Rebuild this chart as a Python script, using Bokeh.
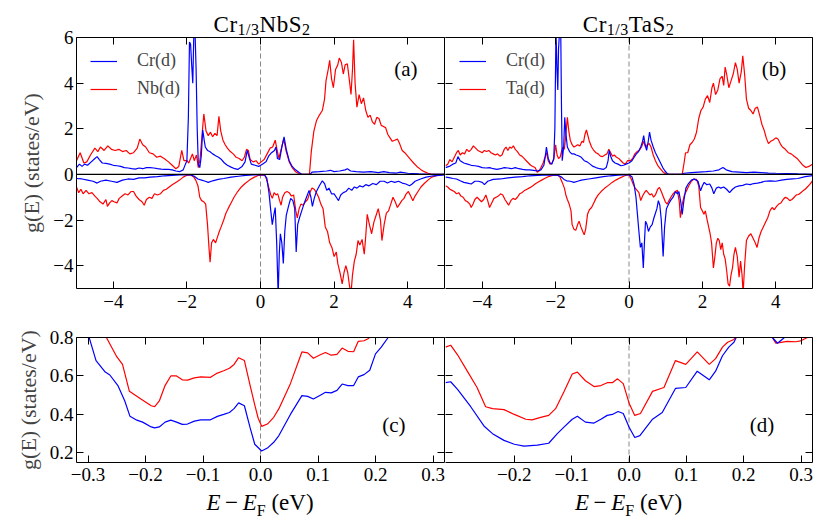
from bokeh.plotting import figure
from bokeh.models import (LinearAxis, FixedTicker, CustomJSTickFormatter, Span, Legend,
                          LegendItem, Label, Div, Spacer, Range1d)
from bokeh.layouts import column, row
from bokeh.embed import file_html
from bokeh.resources import INLINE

FONT = "Liberation Serif"
FONT_AX = "'Liberation Serif', serif"
BLUE = "#0000ff"
RED = "#ff0000"

# ---------------- data: Cr1/3NbS2 (panel a) ----------------
nb_nbd_up = [(-5.0, 0.6), (-4.9, 0.95), (-4.8, 0.5), (-4.72, 0.55), (-4.62, 0.85), (-4.5, 1.15), (-4.42, 1.0),
             (-4.35, 1.2), (-4.25, 1.05), (-4.15, 1.25), (-4.05, 1.1), (-3.95, 1.05), (-3.85, 1.1), (-3.75, 1.0),
             (-3.65, 1.05), (-3.55, 0.9), (-3.45, 0.95), (-3.35, 1.15), (-3.28, 1.55), (-3.2, 1.3), (-3.12, 1.2),
             (-3.02, 0.95), (-2.92, 0.9), (-2.82, 0.75), (-2.72, 0.8), (-2.62, 0.7), (-2.5, 0.55), (-2.4, 0.4),
             (-2.3, 0.25), (-2.22, 0.35), (-2.14, 1.05), (-2.08, 0.6), (-2.0, 0.6), (-1.95, 0.5), (-1.9, 0.7),
             (-1.85, 0.9), (-1.8, 0.6), (-1.74, 0.85), (-1.69, 0.3), (-1.64, 0.7), (-1.58, 1.9), (-1.54, 2.65),
             (-1.48, 1.9), (-1.42, 1.7), (-1.36, 1.85), (-1.3, 1.65), (-1.24, 1.8), (-1.18, 1.7), (-1.13, 2.55),
             (-1.08, 1.9), (-1.02, 1.5), (-0.96, 1.3), (-0.9, 1.15), (-0.82, 1.0), (-0.74, 0.9), (-0.66, 0.75),
             (-0.58, 0.7), (-0.5, 0.6), (-0.44, 0.75), (-0.38, 1.1), (-0.33, 1.05), (-0.28, 0.65), (-0.2, 0.55),
             (-0.12, 0.6), (-0.05, 0.45), (0.02, 0.55), (0.1, 0.65), (0.18, 0.9), (0.26, 1.15), (0.33, 1.2),
             (0.4, 1.5), (0.46, 1.0), (0.5, 0.7), (0.56, 1.1), (0.63, 1.55), (0.7, 1.0), (0.78, 0.55), (0.86, 0.3),
             (0.95, 0.12), (1.05, 0.03), (1.15, 0.0), (1.33, 0.0), (1.38, 1.0), (1.45, 1.9), (1.52, 2.35),
             (1.6, 2.6), (1.68, 2.8), (1.74, 3.3), (1.78, 4.1), (1.84, 4.6), (1.88, 5.0), (1.93, 4.2), (1.98, 3.8),
             (2.04, 4.6), (2.1, 4.8), (2.14, 5.1), (2.2, 4.9), (2.25, 4.4), (2.3, 4.8), (2.36, 4.85), (2.41, 4.2),
             (2.46, 3.5), (2.5, 4.6), (2.53, 5.9), (2.57, 4.0), (2.62, 2.95), (2.68, 3.5), (2.74, 3.1), (2.8, 3.35),
             (2.86, 2.8), (2.92, 2.5), (2.98, 2.6), (3.04, 2.3), (3.1, 2.2), (3.16, 2.5), (3.22, 2.45), (3.28, 2.15),
             (3.34, 2.1), (3.4, 2.05), (3.46, 1.75), (3.52, 1.6), (3.58, 1.45), (3.65, 1.5), (3.72, 1.55),
             (3.78, 1.35), (3.85, 1.05), (3.92, 0.95), (4.0, 0.8), (4.08, 0.65), (4.16, 0.5), (4.25, 0.35),
             (4.35, 0.22), (4.45, 0.12), (4.55, 0.05), (4.65, 0.0), (5.0, 0.0)]

nb_crd_up = [(-5.0, 0.3), (-4.92, 0.45), (-4.85, 0.35), (-4.78, 0.45), (-4.7, 0.4), (-4.6, 0.55), (-4.5, 0.7),
             (-4.44, 0.78), (-4.38, 0.65), (-4.3, 0.5), (-4.2, 0.48), (-4.1, 0.45), (-4.0, 0.4), (-3.9, 0.38),
             (-3.8, 0.35), (-3.7, 0.3), (-3.6, 0.28), (-3.5, 0.25), (-3.4, 0.23), (-3.3, 0.28), (-3.2, 0.25),
             (-3.1, 0.3), (-3.0, 0.3), (-2.9, 0.28), (-2.8, 0.25), (-2.7, 0.23), (-2.6, 0.22), (-2.5, 0.22),
             (-2.4, 0.2), (-2.3, 0.15), (-2.2, 0.12), (-2.1, 0.2), (-2.04, 0.45), (-2.0, 0.6), (-1.96, 2.5),
             (-1.93, 5.8), (-1.9, 5.7), (-1.87, 4.8), (-1.84, 4.0), (-1.81, 6.3), (-1.78, 6.3), (-1.75, 4.6),
             (-1.72, 2.0), (-1.69, 0.45), (-1.65, 0.3), (-1.61, 0.8), (-1.57, 1.95), (-1.53, 1.5), (-1.5, 1.2),
             (-1.44, 1.05), (-1.38, 1.0), (-1.3, 0.9), (-1.22, 0.82), (-1.14, 0.75), (-1.06, 0.65), (-0.98, 0.5),
             (-0.9, 0.4), (-0.8, 0.32), (-0.7, 0.25), (-0.62, 0.22), (-0.5, 0.35), (-0.42, 0.55), (-0.36, 1.05),
             (-0.3, 0.7), (-0.25, 0.45), (-0.15, 0.4), (-0.05, 0.35), (0.05, 0.45), (0.15, 0.55), (0.22, 0.8),
             (0.3, 0.95), (0.38, 1.05), (0.42, 1.2), (0.46, 0.7), (0.52, 0.65), (0.58, 1.2), (0.64, 1.65),
             (0.7, 1.1), (0.78, 0.6), (0.86, 0.35), (0.95, 0.2), (1.05, 0.08), (1.12, 0.0), (1.35, 0.0),
             (1.4, 0.1), (1.6, 0.12), (1.8, 0.15), (1.9, 0.18), (2.0, 0.12), (2.15, 0.15), (2.3, 0.2),
             (2.36, 0.25), (2.45, 0.15), (2.6, 0.12), (2.8, 0.1), (3.0, 0.12), (3.2, 0.08), (3.35, 0.12),
             (3.5, 0.08), (3.7, 0.06), (3.8, 0.1), (4.0, 0.05), (4.3, 0.02), (4.6, 0.0), (5.0, 0.0)]

nb_crd_dn = [(-5.0, -0.18), (-4.85, -0.2), (-4.7, -0.25), (-4.55, -0.3), (-4.44, -0.38), (-4.35, -0.3),
             (-4.2, -0.25), (-4.05, -0.3), (-3.9, -0.35), (-3.75, -0.25), (-3.6, -0.2), (-3.45, -0.22),
             (-3.3, -0.15), (-3.15, -0.15), (-3.0, -0.12), (-2.8, -0.1), (-2.6, -0.06), (-2.4, -0.04),
             (-2.2, -0.02), (-1.9, -0.02), (-1.8, -0.08), (-1.7, -0.2), (-1.6, -0.25), (-1.5, -0.3),
             (-1.42, -0.35), (-1.3, -0.28), (-1.15, -0.22), (-1.0, -0.18), (-0.8, -0.12), (-0.6, -0.08),
             (-0.4, -0.04), (-0.2, -0.02), (0.1, -0.02), (0.17, -0.15), (0.23, -0.8), (0.28, -1.6), (0.32, -2.2),
             (0.36, -1.8), (0.4, -1.45), (0.44, -3.0), (0.48, -5.3), (0.51, -3.5), (0.54, -2.6), (0.58, -3.0),
             (0.62, -3.9), (0.66, -2.5), (0.7, -1.8), (0.76, -1.4), (0.82, -1.05), (0.88, -1.15), (0.93, -1.5),
             (0.97, -3.4), (1.01, -2.2), (1.06, -1.9), (1.12, -1.6), (1.18, -1.3), (1.25, -1.0), (1.32, -0.7),
             (1.37, -1.0), (1.41, -1.4), (1.46, -1.05), (1.52, -0.75), (1.6, -0.5), (1.68, -0.28), (1.74, -0.4),
             (1.8, -0.7), (1.86, -0.6), (1.93, -0.85), (2.0, -0.85), (2.06, -1.0), (2.12, -1.15), (2.18, -0.9),
             (2.25, -0.8), (2.32, -0.75), (2.4, -0.6), (2.48, -0.7), (2.55, -0.55), (2.62, -0.6), (2.7, -0.5),
             (2.78, -0.55), (2.86, -0.45), (2.95, -0.5), (3.05, -0.4), (3.15, -0.45), (3.25, -0.3), (3.36, -0.3),
             (3.45, -0.38), (3.55, -0.3), (3.65, -0.35), (3.75, -0.3), (3.85, -0.38), (3.95, -0.42), (4.05, -0.5),
             (4.12, -0.42), (4.2, -0.3), (4.35, -0.2), (4.5, -0.12), (4.7, -0.06), (5.0, -0.02)]

nb_nbd_dn = [(-5.0, -0.55), (-4.94, -0.8), (-4.88, -0.65), (-4.82, -0.85), (-4.74, -0.7), (-4.66, -0.85),
             (-4.58, -0.8), (-4.5, -0.95), (-4.44, -1.05), (-4.36, -1.2), (-4.28, -1.3), (-4.2, -1.1),
             (-4.16, -1.4), (-4.1, -1.25), (-4.04, -1.15), (-3.98, -1.2), (-3.9, -1.25), (-3.84, -1.05),
             (-3.76, -0.95), (-3.68, -0.85), (-3.6, -0.9), (-3.52, -0.75), (-3.45, -0.75), (-3.38, -0.95),
             (-3.3, -1.1), (-3.22, -1.2), (-3.16, -1.35), (-3.1, -1.1), (-3.02, -1.0), (-2.95, -1.05),
             (-2.88, -0.85), (-2.8, -0.9), (-2.72, -0.85), (-2.64, -0.7), (-2.56, -0.65), (-2.48, -0.55),
             (-2.4, -0.45), (-2.3, -0.35), (-2.2, -0.25), (-2.1, -0.12), (-2.0, -0.04), (-1.9, -0.02),
             (-1.82, -0.1), (-1.76, -0.25), (-1.7, -0.5), (-1.65, -1.0), (-1.6, -1.15), (-1.54, -1.2),
             (-1.49, -1.3), (-1.44, -2.2), (-1.4, -3.2), (-1.37, -3.85), (-1.33, -3.0), (-1.28, -2.85),
             (-1.22, -3.0), (-1.17, -2.75), (-1.12, -2.5), (-1.07, -2.3), (-1.0, -2.0), (-0.94, -1.7),
             (-0.88, -1.5), (-0.8, -1.25), (-0.72, -1.0), (-0.62, -0.75), (-0.52, -0.55), (-0.42, -0.4),
             (-0.3, -0.25), (-0.18, -0.13), (-0.05, -0.04), (0.12, -0.02), (0.18, -0.3), (0.23, -0.6),
             (0.28, -0.9), (0.32, -1.05), (0.37, -0.8), (0.42, -0.9), (0.47, -0.85), (0.52, -1.15), (0.56, -1.35),
             (0.6, -1.0), (0.66, -0.8), (0.72, -0.75), (0.78, -0.8), (0.84, -0.95), (0.9, -0.9), (0.96, -1.6),
             (1.0, -1.9), (1.05, -1.5), (1.1, -1.3), (1.16, -1.35), (1.22, -1.2), (1.28, -1.1), (1.34, -0.8),
             (1.4, -0.6), (1.46, -0.65), (1.52, -0.8), (1.58, -1.0), (1.64, -1.3), (1.7, -1.5), (1.76, -2.3),
             (1.82, -2.5), (1.88, -3.0), (1.94, -3.2), (2.0, -3.6), (2.06, -3.4), (2.1, -3.9), (2.16, -4.3),
             (2.22, -4.8), (2.27, -4.3), (2.32, -4.0), (2.37, -4.3), (2.42, -4.9), (2.46, -5.2), (2.5, -4.4),
             (2.55, -3.8), (2.6, -3.5), (2.65, -2.9), (2.7, -3.1), (2.76, -2.85), (2.82, -3.5), (2.86, -2.7),
             (2.9, -1.75), (2.96, -2.2), (3.02, -2.6), (3.08, -2.1), (3.14, -1.8), (3.2, -1.5), (3.26, -2.0),
             (3.3, -2.9), (3.36, -2.2), (3.42, -1.7), (3.48, -1.6), (3.54, -1.3), (3.6, -1.0), (3.66, -1.2),
             (3.72, -1.45), (3.78, -1.3), (3.84, -1.15), (3.9, -1.05), (3.96, -0.85), (4.02, -0.75),
             (4.08, -0.95), (4.14, -1.15), (4.2, -0.95), (4.28, -0.75), (4.36, -0.55), (4.45, -0.4),
             (4.55, -0.25), (4.65, -0.12), (4.8, -0.04), (5.0, 0.0)]

# ---------------- data: Cr1/3TaS2 (panel b) ----------------
ta_tad_up = [(-5.0, 0.38), (-4.94, 0.45), (-4.88, 0.65), (-4.82, 0.55), (-4.76, 0.75), (-4.7, 0.95), (-4.65, 1.05),
             (-4.6, 0.85), (-4.54, 0.95), (-4.48, 0.9), (-4.42, 1.1), (-4.36, 1.0), (-4.3, 1.1), (-4.24, 1.25),
             (-4.18, 1.15), (-4.12, 1.05), (-4.06, 1.0), (-4.0, 0.95), (-3.94, 1.05), (-3.88, 1.0), (-3.82, 1.05),
             (-3.76, 0.95), (-3.7, 0.9), (-3.64, 0.85), (-3.58, 0.9), (-3.52, 0.8), (-3.46, 0.85), (-3.4, 1.1),
             (-3.35, 1.2), (-3.3, 1.05), (-3.25, 1.2), (-3.2, 1.15), (-3.15, 1.25), (-3.1, 1.1), (-3.04, 1.0),
             (-2.98, 0.85), (-2.92, 0.8), (-2.86, 0.7), (-2.8, 0.6), (-2.74, 0.5), (-2.68, 0.4), (-2.62, 0.35),
             (-2.56, 0.3), (-2.5, 0.1), (-2.45, 0.15), (-2.4, 0.3), (-2.34, 0.5), (-2.28, 0.8), (-2.25, 0.95),
             (-2.2, 0.6), (-2.15, 0.45), (-2.1, 0.5), (-2.05, 0.65), (-2.0, 1.3), (-1.96, 0.85), (-1.92, 0.7),
             (-1.88, 0.75), (-1.84, 1.0), (-1.8, 1.2), (-1.76, 1.1), (-1.72, 1.75), (-1.68, 2.5), (-1.64, 1.9),
             (-1.6, 1.5), (-1.55, 1.3), (-1.5, 1.2), (-1.45, 1.25), (-1.4, 1.3), (-1.34, 1.25), (-1.28, 1.45),
             (-1.24, 1.4), (-1.2, 1.75), (-1.16, 1.95), (-1.12, 1.7), (-1.08, 1.45), (-1.02, 1.2), (-0.96, 1.05),
             (-0.9, 0.95), (-0.84, 0.9), (-0.78, 0.8), (-0.72, 0.78), (-0.66, 0.85), (-0.6, 0.9), (-0.55, 1.1),
             (-0.5, 0.95), (-0.45, 0.8), (-0.4, 0.85), (-0.34, 0.75), (-0.28, 0.7), (-0.22, 0.6), (-0.16, 0.5),
             (-0.1, 0.45), (-0.04, 0.6), (0.04, 0.6), (0.1, 0.7), (0.16, 0.9), (0.22, 1.0), (0.28, 1.05),
             (0.34, 1.2), (0.4, 1.45), (0.45, 1.2), (0.5, 1.3), (0.55, 1.35), (0.6, 1.2), (0.66, 0.85), (0.72, 0.6),
             (0.78, 0.4), (0.85, 0.25), (0.92, 0.12), (1.0, 0.02), (1.05, 0.0), (1.45, 0.0), (1.5, 0.5),
             (1.54, 0.95), (1.6, 0.95), (1.66, 1.3), (1.72, 1.4), (1.78, 1.55), (1.84, 1.85), (1.9, 2.45),
             (1.96, 2.8), (2.02, 2.95), (2.08, 3.3), (2.14, 3.45), (2.2, 3.15), (2.26, 3.8), (2.3, 4.0),
             (2.36, 3.5), (2.42, 3.7), (2.48, 4.2), (2.54, 4.3), (2.58, 3.9), (2.62, 4.7), (2.66, 4.4),
             (2.72, 3.8), (2.78, 4.1), (2.84, 4.4), (2.9, 4.9), (2.95, 4.6), (3.0, 4.0), (3.06, 4.5), (3.1, 5.2),
             (3.15, 4.4), (3.2, 3.3), (3.26, 2.9), (3.32, 2.8), (3.38, 2.65), (3.44, 2.9), (3.5, 2.95),
             (3.56, 2.6), (3.62, 2.2), (3.68, 1.95), (3.74, 1.6), (3.8, 1.35), (3.86, 1.45), (3.92, 1.5),
             (4.0, 1.6), (4.06, 1.55), (4.12, 1.35), (4.18, 1.2), (4.26, 1.1), (4.34, 0.95), (4.42, 0.9),
             (4.5, 0.8), (4.58, 0.7), (4.66, 0.55), (4.74, 0.4), (4.82, 0.3), (4.9, 0.35), (5.0, 0.45)]

ta_crd_up = [(-5.0, 0.3), (-4.9, 0.35), (-4.8, 0.45), (-4.72, 0.5), (-4.66, 0.78), (-4.6, 0.6), (-4.5, 0.5),
             (-4.4, 0.45), (-4.3, 0.4), (-4.2, 0.38), (-4.1, 0.35), (-4.0, 0.3), (-3.9, 0.28), (-3.8, 0.3),
             (-3.7, 0.25), (-3.6, 0.22), (-3.5, 0.25), (-3.4, 0.3), (-3.3, 0.28), (-3.2, 0.25), (-3.1, 0.3),
             (-3.0, 0.25), (-2.9, 0.22), (-2.8, 0.2), (-2.7, 0.2), (-2.6, 0.18), (-2.5, 0.15), (-2.4, 0.2),
             (-2.32, 0.4), (-2.28, 0.8), (-2.25, 1.2), (-2.2, 0.7), (-2.15, 0.5), (-2.1, 0.45), (-2.05, 0.7),
             (-2.02, 2.0), (-1.99, 6.3), (-1.96, 4.5), (-1.94, 3.7), (-1.92, 5.5), (-1.89, 6.3), (-1.86, 6.3),
             (-1.84, 3.0), (-1.82, 0.6), (-1.78, 1.2), (-1.75, 2.5), (-1.72, 1.8), (-1.68, 1.2), (-1.62, 1.0),
             (-1.56, 0.9), (-1.5, 0.9), (-1.44, 0.85), (-1.38, 0.82), (-1.3, 0.75), (-1.22, 0.6), (-1.14, 0.55),
             (-1.06, 0.45), (-0.98, 0.35), (-0.9, 0.3), (-0.8, 0.25), (-0.7, 0.22), (-0.62, 0.3), (-0.57, 0.6),
             (-0.54, 1.05), (-0.5, 0.8), (-0.45, 0.6), (-0.38, 0.5), (-0.3, 0.45), (-0.22, 0.38), (-0.15, 0.4),
             (-0.08, 0.45), (0.0, 0.5), (0.08, 0.6), (0.14, 0.75), (0.2, 0.9), (0.26, 1.0), (0.32, 1.2),
             (0.37, 1.45), (0.4, 1.7), (0.44, 1.3), (0.48, 1.05), (0.52, 1.4), (0.56, 1.85), (0.6, 1.5),
             (0.66, 1.2), (0.72, 0.95), (0.8, 0.7), (0.86, 0.5), (0.92, 0.3), (0.98, 0.15), (1.05, 0.02),
             (1.1, 0.0), (1.45, 0.0), (1.5, 0.05), (1.7, 0.08), (1.9, 0.1), (2.1, 0.12), (2.3, 0.15), (2.45, 0.2),
             (2.56, 0.3), (2.65, 0.2), (2.8, 0.12), (3.0, 0.1), (3.2, 0.08), (3.4, 0.1), (3.6, 0.08), (3.8, 0.06),
             (4.0, 0.05), (4.3, 0.04), (4.6, 0.02), (5.0, 0.0)]

ta_crd_dn = [(-5.0, -0.12), (-4.9, -0.14), (-4.8, -0.18), (-4.7, -0.2), (-4.6, -0.28), (-4.5, -0.35),
             (-4.4, -0.38), (-4.3, -0.42), (-4.2, -0.3), (-4.1, -0.3), (-4.0, -0.35), (-3.94, -0.45),
             (-3.85, -0.3), (-3.7, -0.22), (-3.5, -0.2), (-3.3, -0.15), (-3.1, -0.12), (-2.9, -0.1),
             (-2.7, -0.06), (-2.5, -0.04), (-2.2, -0.02), (-1.95, -0.03), (-1.85, -0.1), (-1.77, -0.22),
             (-1.7, -0.28), (-1.6, -0.3), (-1.5, -0.35), (-1.4, -0.3), (-1.3, -0.25), (-1.1, -0.2), (-0.9, -0.15),
             (-0.7, -0.1), (-0.5, -0.06), (-0.3, -0.03), (0.0, -0.01), (0.08, -0.1), (0.14, -0.45), (0.19, -1.0),
             (0.23, -1.75), (0.27, -2.5), (0.31, -3.2), (0.35, -3.0), (0.39, -4.1), (0.42, -3.0), (0.45, -2.05),
             (0.49, -2.2), (0.53, -2.5), (0.58, -2.3), (0.63, -2.2), (0.68, -1.9), (0.72, -1.7), (0.76, -1.5),
             (0.8, -1.15), (0.84, -1.35), (0.88, -2.0), (0.93, -3.6), (0.97, -2.3), (1.02, -1.5), (1.08, -1.3),
             (1.13, -1.15), (1.2, -1.0), (1.27, -0.75), (1.32, -0.85), (1.36, -0.75), (1.41, -1.2), (1.45, -1.75),
             (1.5, -1.1), (1.55, -0.6), (1.62, -0.4), (1.7, -0.25), (1.77, -0.2), (1.83, -0.25), (1.88, -0.3),
             (1.95, -0.72), (2.0, -0.5), (2.05, -0.35), (2.12, -0.45), (2.2, -0.42), (2.26, -0.6), (2.31, -0.85),
             (2.38, -0.6), (2.44, -0.55), (2.5, -0.6), (2.58, -0.55), (2.66, -0.65), (2.74, -0.8), (2.82, -0.65),
             (2.9, -0.55), (3.0, -0.5), (3.1, -0.48), (3.2, -0.42), (3.3, -0.45), (3.4, -0.4), (3.5, -0.38),
             (3.6, -0.35), (3.7, -0.3), (3.85, -0.28), (4.0, -0.3), (4.15, -0.25), (4.3, -0.22), (4.45, -0.2),
             (4.6, -0.18), (4.8, -0.1), (5.0, -0.05)]

ta_tad_dn = [(-5.0, -0.5), (-4.94, -0.55), (-4.88, -0.65), (-4.82, -0.7), (-4.76, -0.75), (-4.7, -0.85),
             (-4.64, -0.8), (-4.58, -0.95), (-4.52, -1.0), (-4.46, -1.15), (-4.4, -1.2), (-4.34, -1.3),
             (-4.3, -1.45), (-4.25, -1.3), (-4.2, -1.1), (-4.14, -1.0), (-4.08, -1.1), (-4.02, -1.2),
             (-3.96, -1.1), (-3.9, -0.9), (-3.85, -1.15), (-3.8, -1.45), (-3.74, -1.25), (-3.68, -1.05),
             (-3.62, -1.0), (-3.56, -0.95), (-3.5, -0.85), (-3.44, -0.9), (-3.38, -1.1), (-3.32, -1.25),
             (-3.28, -1.35), (-3.22, -1.15), (-3.16, -1.05), (-3.1, -1.1), (-3.04, -1.0), (-2.98, -0.85),
             (-2.92, -0.8), (-2.86, -0.72), (-2.78, -0.65), (-2.7, -0.58), (-2.62, -0.5), (-2.54, -0.4),
             (-2.46, -0.32), (-2.38, -0.25), (-2.3, -0.18), (-2.2, -0.1), (-2.08, -0.04), (-1.95, -0.03),
             (-1.88, -0.12), (-1.82, -0.35), (-1.76, -0.6), (-1.72, -0.9), (-1.68, -1.1), (-1.63, -1.3),
             (-1.58, -1.6), (-1.55, -2.2), (-1.5, -2.4), (-1.45, -2.45), (-1.4, -2.2), (-1.36, -2.05),
             (-1.31, -2.3), (-1.26, -2.5), (-1.22, -2.65), (-1.18, -2.4), (-1.13, -1.75), (-1.08, -1.55),
             (-1.02, -1.45), (-0.96, -1.25), (-0.9, -1.05), (-0.84, -0.9), (-0.76, -0.75), (-0.66, -0.6),
             (-0.56, -0.48), (-0.46, -0.35), (-0.36, -0.25), (-0.24, -0.15), (-0.12, -0.06), (0.0, -0.01),
             (0.06, -0.2), (0.12, -0.45), (0.17, -0.6), (0.22, -0.7), (0.27, -0.8), (0.32, -1.15), (0.37, -0.95),
             (0.42, -0.8), (0.47, -0.7), (0.52, -0.8), (0.57, -0.9), (0.62, -0.85), (0.67, -1.0), (0.72, -0.9),
             (0.78, -0.65), (0.83, -0.57), (0.88, -0.75), (0.94, -1.0), (0.99, -1.2), (1.04, -1.3), (1.09, -1.15),
             (1.14, -1.0), (1.2, -0.85), (1.26, -0.75), (1.32, -0.7), (1.37, -1.2), (1.4, -1.9), (1.45, -1.3),
             (1.51, -0.9), (1.57, -0.7), (1.63, -0.5), (1.7, -0.3), (1.77, -0.2), (1.84, -0.22), (1.9, -0.5),
             (1.95, -1.45), (2.0, -1.6), (2.04, -1.75), (2.08, -1.6), (2.13, -2.0), (2.17, -2.3), (2.21, -2.6),
             (2.25, -3.0), (2.3, -4.1), (2.34, -3.6), (2.38, -3.0), (2.42, -2.8), (2.46, -2.9), (2.5, -3.3),
             (2.54, -3.0), (2.58, -3.5), (2.62, -3.7), (2.66, -4.2), (2.7, -4.8), (2.74, -4.9), (2.78, -4.4),
             (2.82, -4.1), (2.86, -3.5), (2.9, -3.2), (2.95, -3.6), (3.0, -4.5), (3.04, -3.8), (3.08, -4.4),
             (3.11, -5.2), (3.15, -4.0), (3.2, -2.9), (3.26, -2.7), (3.32, -2.6), (3.38, -2.8), (3.44, -3.0),
             (3.49, -3.2), (3.54, -2.8), (3.6, -2.5), (3.66, -2.3), (3.72, -2.1), (3.78, -1.9), (3.84, -1.6),
             (3.9, -1.45), (3.96, -1.55), (4.02, -1.4), (4.08, -1.3), (4.14, -1.25), (4.2, -1.1), (4.26, -1.0),
             (4.32, -1.05), (4.38, -1.15), (4.44, -1.1), (4.5, -1.0), (4.56, -0.9), (4.62, -0.88), (4.68, -0.8),
             (4.74, -0.72), (4.8, -0.65), (4.86, -0.55), (4.92, -0.45), (5.0, -0.28)]

# ---------------- data: zoom near E_F (panels c, d) ----------------
c_red = [(-0.32, 1.0), (-0.29, 0.9), (-0.268, 0.8), (-0.25, 0.7), (-0.24, 0.66), (-0.228, 0.52), (-0.208, 0.48),
         (-0.19, 0.445), (-0.184, 0.44), (-0.176, 0.47), (-0.166, 0.55), (-0.156, 0.6), (-0.146, 0.6),
         (-0.136, 0.58), (-0.127, 0.578), (-0.115, 0.59), (-0.104, 0.595), (-0.087, 0.593), (-0.075, 0.615),
         (-0.064, 0.627), (-0.054, 0.64), (-0.046, 0.66), (-0.038, 0.695), (-0.028, 0.68), (-0.018, 0.55),
         (-0.01, 0.45), (-0.004, 0.38), (0.002, 0.338), (0.012, 0.35), (0.023, 0.385), (0.032, 0.43),
         (0.052, 0.56), (0.072, 0.725), (0.082, 0.72), (0.092, 0.692), (0.104, 0.71), (0.113, 0.722),
         (0.123, 0.708), (0.133, 0.712), (0.142, 0.745), (0.152, 0.728), (0.162, 0.726), (0.17, 0.78),
         (0.18, 0.783), (0.188, 0.795), (0.2, 0.84), (0.22, 0.9)]

c_blue = [(-0.32, 1.0), (-0.3, 0.82), (-0.286, 0.68), (-0.27, 0.62), (-0.262, 0.605), (-0.248, 0.55),
          (-0.236, 0.47), (-0.227, 0.39), (-0.215, 0.37), (-0.205, 0.36), (-0.19, 0.335), (-0.184, 0.33),
          (-0.176, 0.335), (-0.166, 0.36), (-0.156, 0.37), (-0.146, 0.36), (-0.136, 0.348), (-0.127, 0.35),
          (-0.115, 0.365), (-0.104, 0.372), (-0.087, 0.372), (-0.075, 0.39), (-0.064, 0.4), (-0.054, 0.41),
          (-0.046, 0.43), (-0.038, 0.46), (-0.028, 0.445), (-0.018, 0.33), (-0.01, 0.245), (0.002, 0.21),
          (0.012, 0.225), (0.023, 0.255), (0.032, 0.29), (0.052, 0.4), (0.072, 0.498), (0.082, 0.494),
          (0.092, 0.48), (0.104, 0.5), (0.113, 0.515), (0.123, 0.512), (0.133, 0.525), (0.142, 0.558),
          (0.152, 0.55), (0.162, 0.55), (0.17, 0.595), (0.18, 0.607), (0.19, 0.63), (0.2, 0.715), (0.21, 0.75),
          (0.222, 0.8), (0.24, 0.88)]

d_red = [(-0.32, 0.75), (-0.311, 0.76), (-0.299, 0.71), (-0.282, 0.625), (-0.265, 0.54), (-0.25, 0.44),
         (-0.238, 0.43), (-0.218, 0.425), (-0.2, 0.4), (-0.18, 0.375), (-0.169, 0.372), (-0.154, 0.385),
         (-0.14, 0.395), (-0.128, 0.43), (-0.113, 0.52), (-0.099, 0.61), (-0.09, 0.62), (-0.076, 0.575),
         (-0.061, 0.545), (-0.049, 0.55), (-0.038, 0.565), (-0.029, 0.565), (-0.02, 0.585), (-0.01, 0.56),
         (0.0, 0.46), (0.01, 0.395), (0.02, 0.405), (0.041, 0.52), (0.061, 0.54), (0.081, 0.68), (0.099, 0.66),
         (0.119, 0.725), (0.14, 0.66), (0.151, 0.69), (0.163, 0.75), (0.172, 0.775), (0.183, 0.79),
         (0.19, 0.82), (0.21, 0.9), (0.24, 0.86), (0.25, 0.8), (0.256, 0.77), (0.265, 0.775), (0.276, 0.78),
         (0.291, 0.778), (0.299, 0.782), (0.311, 0.8), (0.32, 0.84)]

d_blue = [(-0.32, 0.565), (-0.311, 0.57), (-0.299, 0.53), (-0.276, 0.44), (-0.253, 0.34), (-0.238, 0.3),
          (-0.218, 0.265), (-0.2, 0.245), (-0.183, 0.235), (-0.16, 0.24), (-0.14, 0.25), (-0.125, 0.3),
          (-0.113, 0.335), (-0.099, 0.375), (-0.09, 0.39), (-0.076, 0.36), (-0.061, 0.355), (-0.049, 0.375),
          (-0.038, 0.395), (-0.029, 0.4), (-0.019, 0.415), (-0.01, 0.405), (0.0, 0.335), (0.01, 0.28),
          (0.019, 0.29), (0.041, 0.375), (0.058, 0.41), (0.081, 0.535), (0.099, 0.54), (0.119, 0.625),
          (0.14, 0.58), (0.151, 0.625), (0.163, 0.705), (0.174, 0.75), (0.183, 0.775), (0.19, 0.82),
          (0.21, 0.9), (0.24, 0.85), (0.25, 0.8), (0.259, 0.77), (0.267, 0.79), (0.275, 0.81), (0.3, 0.85)]

top_ticks_x = [-4, -2, 0, 2, 4]
top_ticks_y = [-4, -2, 0, 2, 4, 6]
bot_ticks_x_left = [-0.3, -0.2, -0.1, 0.0, 0.1, 0.2, 0.3]
bot_ticks_x_right = [-0.2, -0.1, 0.0, 0.1, 0.2, 0.3]
bot_ticks_y = [0.2, 0.4, 0.6, 0.8]

titles = [("Cr", "1/3", "NbS", "2"), ("Cr", "1/3", "TaS", "2")]
legend_names = [["Cr(d)", "Nb(d)"], ["Cr(d)", "Ta(d)"]]
panel_tags = ["(a)", "(b)", "(c)", "(d)"]


def fmt(decimals):
    return CustomJSTickFormatter(code=(
        "const s = Math.abs(tick).toFixed(%d);"
        "return (tick < -1e-9 ? '\u2212' : '') + s;" % decimals))


def style_axis(ax, ticks, show, decimals=0, standoff=5, hide_line=False):
    ax.ticker = FixedTicker(ticks=ticks)
    ax.major_tick_in = 7
    ax.major_tick_out = 0
    ax.minor_tick_line_color = None
    ax.axis_line_color = None if hide_line else "black"
    ax.axis_line_width = 1
    ax.major_tick_line_color = "black"
    ax.major_tick_line_width = 1
    ax.major_label_text_font = FONT_AX
    if show:
        ax.formatter = fmt(decimals)
        ax.major_label_text_font_size = "19px"
        ax.major_label_standoff = standoff
        ax.major_label_text_color = "black"
    else:
        ax.formatter = CustomJSTickFormatter(code="return '';")
        ax.major_label_text_font_size = "0px"
        ax.major_label_standoff = 0


def make_fig(xr, yr, fw, fh, left, right, top, bottom, xticks, yticks, ydec, xdec, xstand, is_left):
    p = figure(frame_width=fw, frame_height=fh, x_range=Range1d(*xr), y_range=Range1d(*yr),
               output_backend="svg", toolbar_location=None,
               min_border_left=left, min_border_right=right, min_border_top=top, min_border_bottom=bottom)
    p.outline_line_color = None
    p.grid.visible = False
    p.background_fill_color = "white"
    p.border_fill_alpha = 0
    style_axis(p.below[0], xticks, True, xdec, standoff=xstand)
    style_axis(p.left[0], yticks, is_left, ydec, standoff=3, hide_line=not is_left)
    ax_top = LinearAxis()
    style_axis(ax_top, xticks, False)
    p.add_layout(ax_top, "above")
    ax_right = LinearAxis()
    style_axis(ax_right, yticks, False)
    p.add_layout(ax_right, "right")
    if is_left:
        p.left[0].axis_label = "g(E) (states/eV)"
        p.left[0].axis_label_text_font = FONT_AX
        p.left[0].axis_label_text_font_size = "22px"
        p.left[0].axis_label_text_font_style = "normal"
        p.left[0].axis_label_standoff = 6
    p.add_layout(Span(location=0, dimension="height", line_color="#888888", line_dash="5 3",
                      line_width=1, level="underlay"))
    return p


def xy(pts):
    return [a for a, b in pts], [b for a, b in pts]


TOP_H, BOT_H = 251, 125
# top row
pa = make_fig((-5, 5), (-5, 6), 368, TOP_H, 76, 1, 10, 39, top_ticks_x, top_ticks_y, 0, 0, 6, True)
pb = make_fig((-5, 5), (-5, 6), 367, TOP_H, 0, 10, 10, 39, top_ticks_x, top_ticks_y, 0, 0, 6, False)
# bottom row
pc = make_fig((-0.32, 0.32), (0.15, 0.8), 368, BOT_H, 76, 1, 10, 28, bot_ticks_x_left, bot_ticks_y, 1, 1, 5, True)
pd = make_fig((-0.32, 0.32), (0.15, 0.8), 367, BOT_H, 0, 10, 10, 28, bot_ticks_x_right, bot_ticks_y, 1, 1, 5, False)

for p, curves, names in [(pa, (nb_crd_up, nb_nbd_up, nb_crd_dn, nb_nbd_dn), legend_names[0]),
                         (pb, (ta_crd_up, ta_tad_up, ta_crd_dn, ta_tad_dn), legend_names[1])]:
    cu, mu, cd, md = curves
    r_mu = p.line(*xy(mu), line_color=RED, line_width=1.2)
    r_md = p.line(*xy(md), line_color=RED, line_width=1.2)
    r_cu = p.line(*xy(cu), line_color=BLUE, line_width=1.2)
    r_cd = p.line(*xy(cd), line_color=BLUE, line_width=1.2)
    p.add_layout(Span(location=0, dimension="width", line_color="black", line_width=1.3))
    leg = Legend(items=[LegendItem(label=names[0], renderers=[r_cu]),
                        LegendItem(label=names[1], renderers=[r_mu])],
                 location=(14, 189), border_line_color=None, background_fill_alpha=0,
                 label_text_font=FONT, label_text_font_size="18px", glyph_width=27, glyph_height=20,
                 label_height=20, label_standoff=20, spacing=7, padding=0, margin=0)
    p.add_layout(leg)

for p, red, blue in [(pc, c_red, c_blue), (pd, d_red, d_blue)]:
    p.line(*xy(red), line_color=RED, line_width=1.2)
    p.line(*xy(blue), line_color=BLUE, line_width=1.2)

tag_pos = [(pa, 3.95, 4.6), (pb, 3.95, 4.6), (pc, 0.232, 0.345), (pd, 0.232, 0.345)]
for (p, tx, ty), tag in zip(tag_pos, panel_tags):
    p.add_layout(Label(x=tx, y=ty, text=tag, text_font=FONT, text_font_size="21px",
                       text_align="center", text_baseline="middle", text_color="black"))


def html_div(html, w, h, size, lh, top, extra=""):
    inner = ('<div style="position:relative;top:%dpx;font-family:\'Liberation Serif\';font-size:%dpx;'
             'line-height:%dpx;text-align:center;width:%dpx;white-space:nowrap;color:black;%s">%s</div>'
             % (top, size, lh, w, extra, html))
    return Div(text=inner, width=w, height=h, margin=0,
               styles={"text-align": "center", "font-family": "'Liberation Serif'",
                       "overflow": "visible", "z-index": "10"})


SUB = '<span style="font-size:16px;vertical-align:-3px">%s</span>'
title_html = [t[0] + SUB % t[1] + t[2] + SUB % t[3] for t in titles]

title_row = row(Spacer(width=76, height=27, margin=0),
                html_div(title_html[0], 368, 27, 23, 27, 11, "letter-spacing:0.5px;padding-left:4px"),
                Spacer(width=1, height=27, margin=0),
                html_div(title_html[1], 367, 27, 23, 27, 11, "letter-spacing:0.5px"),
                spacing=0)

xlabel = "<i>E</i>&thinsp;&minus;&thinsp;<i>E</i><sub style=\"font-size:16px\">F</sub> (eV)"
xlab_row = row(Spacer(width=76, height=26, margin=0),
               html_div(xlabel, 368, 26, 23, 26, 0), Spacer(width=1, height=26, margin=0),
               html_div(xlabel, 367, 26, 23, 26, 0), spacing=0)

layout = column(title_row, row(pa, pb, spacing=0), row(pc, pd, spacing=0), xlab_row, spacing=0)

open("out.html", "w").write(file_html(layout, INLINE))
